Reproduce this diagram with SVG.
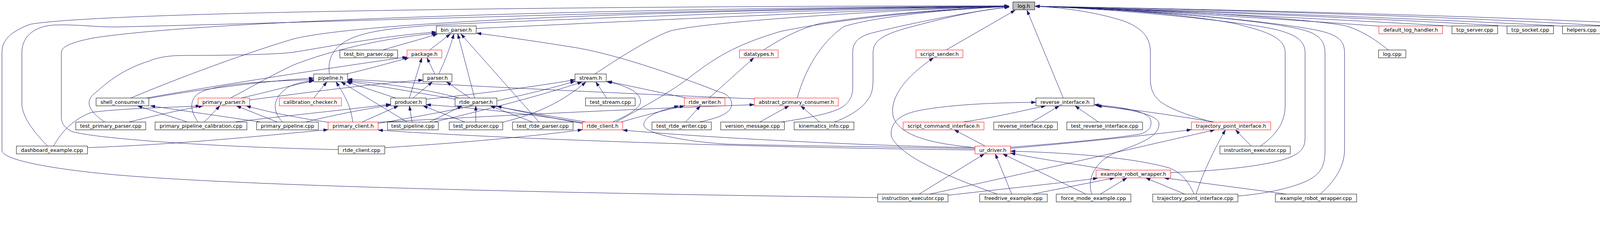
<svg xmlns="http://www.w3.org/2000/svg" width="4509" height="635" viewBox="0 0 4509 635">
<style>
.node rect{fill:#ffffff;stroke:#000000;stroke-width:1}
.node.red rect{stroke:#ff0000}
.node.root rect{fill:#bfbfbf;stroke:#000000}
.node text{font-family:"DejaVu Sans","Liberation Sans",sans-serif;font-size:13px;fill:#000000;text-anchor:middle}
.edge{fill:none;stroke:#191970;stroke-width:1;marker-end:url(#arr)}
</style>
<defs>
<marker id="arr" viewBox="0 0 12 8" refX="12" refY="4" markerWidth="12" markerHeight="8" markerUnits="userSpaceOnUse" orient="auto">
<path d="M0,0 L12,4 L0,8 z" fill="#191970" stroke="#191970" stroke-width="0.5"/>
</marker>
</defs>
<rect x="0" y="0" width="4509" height="635" fill="#ffffff"/>
<g id="edges">
<path class="edge" d="M2247,506 C1700,498 700,482 300,448 C120,432 5,408 5,385 L5,135 C5,100 30,80 78,62 C300,25 1800,15 2583,15"/>
<path class="edge" d="M122,374 C90,342 56,300 56,265 L56,135 C56,88 95,66 140,64 C200,62 250,70 300,69 C900,55 1900,20 2583,16"/>
<path class="edge" d="M866,383 C600,378 260,358 185,337 C165,328 157,315 157,300 L157,135 C157,118 185,108 240,97 C600,42 1900,18 2583,16"/>
<path class="edge" d="M1219,73 C1700,50 2300,22 2583,16"/>
<path class="edge" d="M843,189.5 C840,160 845,135 875,112 C920,80 1000,72 1130,63 C1700,38 2300,20 2583,16"/>
<path class="edge" d="M1523,189.5 C1570,158 1650,105 1713,80 C1800,55 2300,24 2583,16"/>
<path class="edge" d="M1955,128 C1990,105 2040,75 2100,60 C2250,35 2450,22 2583,16"/>
<path class="edge" d="M2041,251 C2060,180 2100,110 2160,68 C2250,40 2450,22 2583,17"/>
<path class="edge" d="M2136,312.5 C2170,300 2205,280 2222,255 C2233,240 2235,225 2235,200 L2235,135 C2235,105 2260,90 2310,75 C2400,50 2500,26 2584,18"/>
<path class="edge" d="M2000,312.5 C2070,302 2130,290 2155,275 C2175,262 2183,245 2183,225 L2183,135 C2183,110 2195,95 2230,85 C2350,55 2500,27 2584,18"/>
<path class="edge" d="M2422,128 L2599,26"/>
<path class="edge" d="M2722,251 L2629,26"/>
<path class="edge" d="M335,251 C420,215 600,145 750,100 C900,62 1500,30 2583,16"/>
<path class="edge" d="M1577,312.5 C1650,272 1720,235 1780,187 C1830,150 1880,115 2000,80 C2200,40 2450,22 2583,16"/>
<path class="edge" d="M3530,67 C3300,50 2900,25 2650,16"/>
<path class="edge" d="M3717,67 C3400,48 2900,25 2650,16"/>
<path class="edge" d="M3858,67 C3500,45 2950,25 2650,16"/>
<path class="edge" d="M4000,67 C3600,45 3000,25 2650,16"/>
<path class="edge" d="M4122,67 C3700,40 3000,22 2650,16"/>
<path class="edge" d="M4307,67 C3800,38 3000,22 2650,16"/>
<path class="edge" d="M3554,128 C3520,100 3480,75 3440,65 C3300,42 2900,22 2650,16"/>
<path class="edge" d="M3103,312.5 C3040,295 2980,275 2960,250 C2948,235 2945,220 2945,200 L2945,135 C2945,100 2930,75 2880,55 C2800,28 2700,18 2650,16"/>
<path class="edge" d="M3227,374 C3260,350 3290,320 3290,270 L3290,135 C3290,95 3240,80 3160,60 C3000,30 2750,18 2650,16"/>
<path class="edge" d="M2997,442 C3150,436 3290,420 3325,390 C3338,378 3341,370 3341,350 L3341,135 C3341,100 3310,85 3250,72 C3100,45 2800,20 2650,16"/>
<path class="edge" d="M3169,502 C3260,494 3330,475 3360,455 C3385,440 3392,415 3392,387 L3392,135 C3392,100 3370,85 3330,75 C3200,45 2850,22 2650,16"/>
<path class="edge" d="M3380,497 C3413,467 3442,430 3442,383 L3442,135 C3442,100 3420,88 3370,77 C3200,45 2850,22 2650,16"/>
<path class="edge" d="M980,128 C1030,113 1080,100 1120,87"/>
<path class="edge" d="M1100,128 L1153,87"/>
<path class="edge" d="M1123,189.5 C1135,165 1150,130 1162,87"/>
<path class="edge" d="M1215,251 L1172,87"/>
<path class="edge" d="M1380,312.5 L1180,87"/>
<path class="edge" d="M268,312.5 C250,300 228,282 228,263 C228,250 240,240 250,233 C285,200 330,172 380,157 C400,148 430,142 470,142 C570,142 700,140 750,134 C850,118 980,92 1117,82"/>
<path class="edge" d="M590,251 C640,225 690,195 750,167 C830,135 960,100 1117,85"/>
<path class="edge" d="M1790,312.5 C1830,304 1873,292 1873,267 C1873,250 1860,240 1840,235 C1750,200 1600,145 1480,123 C1400,110 1300,95 1220,85"/>
<path class="edge" d="M887,189.5 C950,175 1000,160 1047,148"/>
<path class="edge" d="M375,251 C500,228 800,180 1042,146"/>
<path class="edge" d="M1113,189.5 L1093,148"/>
<path class="edge" d="M1048,251 L1080,148"/>
<path class="edge" d="M803,251 L837,209.5"/>
<path class="edge" d="M903,312.5 C898,270 880,240 860,209.5"/>
<path class="edge" d="M1042,312.5 L873,209.5"/>
<path class="edge" d="M1013,251 L887,209.5"/>
<path class="edge" d="M1931,253 C1600,240 1200,220 890,203"/>
<path class="edge" d="M381,252 C500,230 700,205 803,200"/>
<path class="edge" d="M617,251 C700,232 760,215 803,207"/>
<path class="edge" d="M507,312.5 C487,285 480,250 520,233 C580,212 700,207 803,204"/>
<path class="edge" d="M723,312.5 C697,285 695,250 740,222 C760,212 785,208 803,206"/>
<path class="edge" d="M1175,251 C1100,230 1000,215 890,206"/>
<path class="edge" d="M1500,312.5 C1300,280 1100,240 890,208"/>
<path class="edge" d="M1057,251 L1107,209.5"/>
<path class="edge" d="M1203,251 L1143,209.5"/>
<path class="edge" d="M639,256 C800,235 950,215 1083,205"/>
<path class="edge" d="M927,312.5 L1020,271"/>
<path class="edge" d="M1055,312.5 L1048,271"/>
<path class="edge" d="M1190,312.5 L1083,271"/>
<path class="edge" d="M1495,315 C1350,290 1200,275 1091,268"/>
<path class="edge" d="M783,312.5 C850,295 930,280 1000,269"/>
<path class="edge" d="M600,312.5 C700,300 850,285 1000,267"/>
<path class="edge" d="M1553,251 L1525,209.5"/>
<path class="edge" d="M1568,312.5 C1610,295 1640,275 1640,260 C1640,235 1600,218 1553,209"/>
<path class="edge" d="M1757,251 L1555,208"/>
<path class="edge" d="M1091,254 C1250,238 1380,220 1472,204"/>
<path class="edge" d="M1287,313 C1380,290 1440,260 1500,210"/>
<path class="edge" d="M968,316 C1150,285 1350,245 1472,208"/>
<path class="edge" d="M1110,312.5 C1250,280 1400,240 1490,210"/>
<path class="edge" d="M1100,312.5 L1183,271"/>
<path class="edge" d="M1218,312.5 L1218,271"/>
<path class="edge" d="M1363,312.5 L1255,271"/>
<path class="edge" d="M1491,316 C1400,300 1330,285 1272,272"/>
<path class="edge" d="M1755,312.5 L1793,271"/>
<path class="edge" d="M1590,312.5 C1650,295 1710,280 1752,271"/>
<path class="edge" d="M2496,381 C2300,376 2000,373 1860,369 C1750,362 1650,342 1648,320 C1648,300 1680,285 1738,271"/>
<path class="edge" d="M1815,251 L1930,148"/>
<path class="edge" d="M968,313 C1300,295 1600,280 1931,268"/>
<path class="edge" d="M1945,312.5 L2020,271"/>
<path class="edge" d="M2098,312.5 L2050,271"/>
<path class="edge" d="M330,312.5 C400,295 470,280 520,271"/>
<path class="edge" d="M523,312.5 L563,271"/>
<path class="edge" d="M710,312.5 L605,271"/>
<path class="edge" d="M840,313 C750,300 680,285 630,271"/>
<path class="edge" d="M480,312.5 L352,271"/>
<path class="edge" d="M667,312.5 L385,271"/>
<path class="edge" d="M224,378 C450,370 650,350 840,332"/>
<path class="edge" d="M137,374 C160,333 190,305 233,288 C300,278 420,276 513,271"/>
<path class="edge" d="M2496,384 C1800,376 1200,350 968,333"/>
<path class="edge" d="M985,378 C1200,365 1400,345 1491,332"/>
<path class="edge" d="M2496,378 C2200,373 1800,352 1594,333"/>
<path class="edge" d="M2522,374 L2443,332.5"/>
<path class="edge" d="M2496,378 C2390,368 2305,350 2287,300 C2275,250 2320,195 2390,148"/>
<path class="edge" d="M2587,377 C2700,368 2850,355 2920,343 C2945,335 2950,320 2945,305 C2935,285 2880,275 2801,268"/>
<path class="edge" d="M2587,380 C2750,366 2950,345 3050,332"/>
<path class="edge" d="M2353,497 L2520,394"/>
<path class="edge" d="M2590,497 L2548,394"/>
<path class="edge" d="M2780,497 L2567,394"/>
<path class="edge" d="M3057,497 C3043,467 3027,443 2993,430 C2890,400 2700,390 2587,387"/>
<path class="edge" d="M2843,435.5 C2750,420 2650,405 2587,392"/>
<path class="edge" d="M2427,500 C2600,480 2750,465 2810,456"/>
<path class="edge" d="M2643,497 L2853,455.5"/>
<path class="edge" d="M2817,497 L2885,455.5"/>
<path class="edge" d="M3033,497 L2933,455.5"/>
<path class="edge" d="M3293,497 L2980,455.5"/>
<path class="edge" d="M2553,497 C2420,450 2305,400 2282,350 C2277,317 2300,293 2353,283 C2420,270 2520,263 2652,262"/>
<path class="edge" d="M2465,312.5 C2550,300 2610,285 2677,271"/>
<path class="edge" d="M2642,312.5 L2712,271"/>
<path class="edge" d="M2812,312.5 L2752,271"/>
<path class="edge" d="M2795,497 C2785,470 2790,420 2857,390 C2920,367 2967,350 2967,317 C2967,295 2900,280 2805,270"/>
<path class="edge" d="M3110,312.5 C3000,295 2900,280 2808,271"/>
<path class="edge" d="M2380,497 C2600,450 2900,380 3110,332.5"/>
<path class="edge" d="M3203,374 L3163,332.5"/>
<path class="edge" d="M3062,497 C3080,440 3110,380 3137,332.5"/>
</g>
<g id="n_log_h" class="node root"><rect x="2593" y="5" width="56" height="20"/><text x="2621" y="19.5">log.h</text></g>
<g id="n_bin_parser_h" class="node"><rect x="1117" y="66.5" width="102" height="20"/><text x="1168" y="81">bin_parser.h</text></g>
<g id="n_default_log_handler_h" class="node red"><rect x="3530" y="66.5" width="163" height="20"/><text x="3611.5" y="81">default_log_handler.h</text></g>
<g id="n_tcp_server_cpp" class="node"><rect x="3717" y="66.5" width="117" height="20"/><text x="3775.5" y="81">tcp_server.cpp</text></g>
<g id="n_tcp_socket_cpp" class="node"><rect x="3858" y="66.5" width="119" height="20"/><text x="3917.5" y="81">tcp_socket.cpp</text></g>
<g id="n_helpers_cpp" class="node"><rect x="4000" y="66.5" width="98" height="20"/><text x="4049" y="81">helpers.cpp</text></g>
<g id="n_dashboard_client_cpp" class="node"><rect x="4122" y="66.5" width="161" height="20"/><text x="4202.5" y="81">dashboard_client.cpp</text></g>
<g id="n_robot_receive_timeout_cpp" class="node"><rect x="4307" y="66.5" width="197" height="20"/><text x="4405.5" y="81">robot_receive_timeout.cpp</text></g>
<g id="n_test_bin_parser_cpp" class="node"><rect x="870" y="128" width="148" height="20"/><text x="944" y="142.5">test_bin_parser.cpp</text></g>
<g id="n_package_h" class="node red"><rect x="1042" y="128" width="89" height="20"/><text x="1086.5" y="142.5">package.h</text></g>
<g id="n_datatypes_h" class="node red"><rect x="1893" y="128" width="99" height="20"/><text x="1942.5" y="142.5">datatypes.h</text></g>
<g id="n_script_sender_h" class="node red"><rect x="2345" y="128" width="120" height="20"/><text x="2405" y="142.5">script_sender.h</text></g>
<g id="n_log_cpp" class="node"><rect x="3529" y="128" width="70" height="20"/><text x="3564" y="142.5">log.cpp</text></g>
<g id="n_pipeline_h" class="node"><rect x="803" y="189.5" width="87" height="20"/><text x="846.5" y="204">pipeline.h</text></g>
<g id="n_parser_h" class="node"><rect x="1083" y="189.5" width="74" height="20"/><text x="1120" y="204">parser.h</text></g>
<g id="n_stream_h" class="node"><rect x="1472" y="189.5" width="80" height="20"/><text x="1512" y="204">stream.h</text></g>
<g id="n_shell_consumer_h" class="node"><rect x="246" y="251" width="135" height="20"/><text x="313.5" y="265.5">shell_consumer.h</text></g>
<g id="n_primary_parser_h" class="node red"><rect x="507" y="251" width="132" height="20"/><text x="573" y="265.5">primary_parser.h</text></g>
<g id="n_calibration_checker_h" class="node red"><rect x="715" y="251" width="159" height="20"/><text x="794.5" y="265.5">calibration_checker.h</text></g>
<g id="n_producer_h" class="node"><rect x="1000" y="251" width="91" height="20"/><text x="1045.5" y="265.5">producer.h</text></g>
<g id="n_rtde_parser_h" class="node"><rect x="1165" y="251" width="107" height="20"/><text x="1218.5" y="265.5">rtde_parser.h</text></g>
<g id="n_test_stream_cpp" class="node"><rect x="1499" y="251" width="127" height="20"/><text x="1562.5" y="265.5">test_stream.cpp</text></g>
<g id="n_rtde_writer_h" class="node red"><rect x="1752" y="251" width="104" height="20"/><text x="1804" y="265.5">rtde_writer.h</text></g>
<g id="n_abstract_primary_consumer_h" class="node red"><rect x="1931" y="251" width="215" height="20"/><text x="2038.5" y="265.5">abstract_primary_consumer.h</text></g>
<g id="n_reverse_interface_h" class="node"><rect x="2652" y="251" width="149" height="20"/><text x="2726.5" y="265.5">reverse_interface.h</text></g>
<g id="n_test_primary_parser_cpp" class="node"><rect x="194" y="312.5" width="179" height="20"/><text x="283.5" y="327">test_primary_parser.cpp</text></g>
<g id="n_primary_pipeline_calibration_cpp" class="node"><rect x="397" y="312.5" width="235" height="20"/><text x="514.5" y="327">primary_pipeline_calibration.cpp</text></g>
<g id="n_primary_pipeline_cpp" class="node"><rect x="657" y="312.5" width="158" height="20"/><text x="736" y="327">primary_pipeline.cpp</text></g>
<g id="n_primary_client_h" class="node red"><rect x="840" y="312.5" width="128" height="20"/><text x="904" y="327">primary_client.h</text></g>
<g id="n_test_pipeline_cpp" class="node"><rect x="992" y="312.5" width="130" height="20"/><text x="1057" y="327">test_pipeline.cpp</text></g>
<g id="n_test_producer_cpp" class="node"><rect x="1150" y="312.5" width="137" height="20"/><text x="1218.5" y="327">test_producer.cpp</text></g>
<g id="n_test_rtde_parser_cpp" class="node"><rect x="1312" y="312.5" width="155" height="20"/><text x="1389.5" y="327">test_rtde_parser.cpp</text></g>
<g id="n_rtde_client_h" class="node red"><rect x="1491" y="312.5" width="103" height="20"/><text x="1542.5" y="327">rtde_client.h</text></g>
<g id="n_test_rtde_writer_cpp" class="node"><rect x="1669" y="312.5" width="152" height="20"/><text x="1745" y="327">test_rtde_writer.cpp</text></g>
<g id="n_version_message_cpp" class="node"><rect x="1845" y="312.5" width="163" height="20"/><text x="1926.5" y="327">version_message.cpp</text></g>
<g id="n_kinematics_info_cpp" class="node"><rect x="2033" y="312.5" width="153" height="20"/><text x="2109.5" y="327">kinematics_info.cpp</text></g>
<g id="n_script_command_interface_h" class="node red"><rect x="2312" y="312.5" width="207" height="20"/><text x="2415.5" y="327">script_command_interface.h</text></g>
<g id="n_reverse_interface_cpp" class="node"><rect x="2544" y="312.5" width="163" height="20"/><text x="2625.5" y="327">reverse_interface.cpp</text></g>
<g id="n_test_reverse_interface_cpp" class="node"><rect x="2731" y="312.5" width="194" height="20"/><text x="2828" y="327">test_reverse_interface.cpp</text></g>
<g id="n_trajectory_point_interface_h" class="node red"><rect x="3050" y="312.5" width="203" height="20"/><text x="3151.5" y="327">trajectory_point_interface.h</text></g>
<g id="n_dashboard_example_cpp" class="node"><rect x="42" y="374" width="182" height="20"/><text x="133" y="388.5">dashboard_example.cpp</text></g>
<g id="n_rtde_client_cpp" class="node"><rect x="866" y="374" width="119" height="20"/><text x="925.5" y="388.5">rtde_client.cpp</text></g>
<g id="n_ur_driver_h" class="node red"><rect x="2496" y="374" width="91" height="20"/><text x="2541.5" y="388.5">ur_driver.h</text></g>
<g id="n_instruction_executor_cpp_2" class="node"><rect x="3123" y="374" width="180" height="20"/><text x="3213" y="388.5">instruction_executor.cpp</text></g>
<g id="n_example_robot_wrapper_h" class="node red"><rect x="2806" y="435.5" width="191" height="20"/><text x="2901.5" y="450">example_robot_wrapper.h</text></g>
<g id="n_instruction_executor_cpp_1" class="node"><rect x="2247" y="497" width="180" height="20"/><text x="2337" y="511.5">instruction_executor.cpp</text></g>
<g id="n_freedrive_example_cpp" class="node"><rect x="2508" y="497" width="173" height="20"/><text x="2594.5" y="511.5">freedrive_example.cpp</text></g>
<g id="n_force_mode_example_cpp" class="node"><rect x="2704" y="497" width="191" height="20"/><text x="2799.5" y="511.5">force_mode_example.cpp</text></g>
<g id="n_trajectory_point_interface_cpp" class="node"><rect x="2951" y="497" width="218" height="20"/><text x="3060" y="511.5">trajectory_point_interface.cpp</text></g>
<g id="n_example_robot_wrapper_cpp" class="node"><rect x="3265" y="497" width="208" height="20"/><text x="3369" y="511.5">example_robot_wrapper.cpp</text></g>
</svg>
